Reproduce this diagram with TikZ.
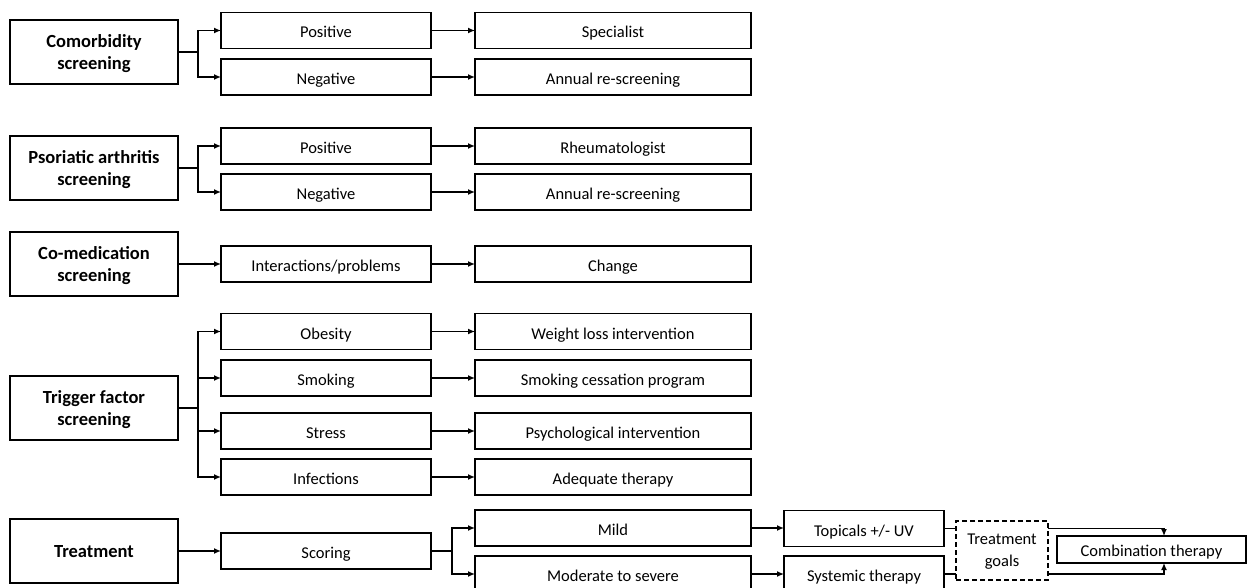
\documentclass[tikz,border=0pt]{standalone}
\usepackage{fontspec}
\setmainfont{Carlito}
\usetikzlibrary{arrows.meta}

\tikzset{
  headbox/.style={draw,line width=1.6pt,minimum width=168pt,minimum height=64pt,align=center,text depth=0pt,font=\fontsize{18.5pt}{21.5pt}\selectfont\bfseries},
  subbox/.style={draw,line width=1.4pt,minimum width=210pt,minimum height=36pt,text height=15pt,text depth=0pt,font=\fontsize{16.5pt}{19pt}\selectfont},
  actbox/.style={subbox,minimum width=276pt},
  therbox/.style={subbox,minimum width=160pt},
  arr/.style={-{Latex[length=7pt,width=6pt]},line width=1.3pt},
  lin/.style={line width=1.3pt}
}

\begin{document}
\begin{tikzpicture}[x=1pt,y=-1pt,inner sep=0pt,outer sep=0pt]
	\useasboundingbox (0,0) rectangle (1248,588);
	% left column
	\node[headbox](com) at (94,52) {Comorbidity\\screening};
	\node[headbox](psa) at (94,168) {Psoriatic arthritis\\screening};
	\node[headbox](med) at (94,264) {Co-medication\\screening};
	\node[headbox](trig) at (94,408) {Trigger factor\\screening};
	\node[headbox](treat) at (94,551) {Treatment};
	% middle column
	\node[subbox](pos1) at (326,30.5) {Positive};
	\node[subbox](neg1) at (326,77) {Negative};
	\node[subbox](pos2) at (326,146) {Positive};
	\node[subbox](neg2) at (326,192) {Negative};
	\node[subbox](inter) at (326,264) {Interactions/problems};
	\node[subbox](obes) at (326,331.5) {Obesity};
	\node[subbox](smok) at (326,378) {Smoking};
	\node[subbox](stress) at (326,431) {Stress};
	\node[subbox](infec) at (326,477) {Infections};
	\node[subbox](scor) at (326,551) {Scoring};
	% right column
	\node[actbox](spec) at (613,30.5) {Specialist};
	\node[actbox](ann1) at (613,77) {Annual re-screening};
	\node[actbox](rheu) at (613,146) {Rheumatologist};
	\node[actbox](ann2) at (613,192) {Annual re-screening};
	\node[actbox](chg) at (613,264) {Change};
	\node[actbox](weight) at (613,331.5) {Weight loss intervention};
	\node[actbox](cess) at (613,378) {Smoking cessation program};
	\node[actbox](psych) at (613,431) {Psychological intervention};
	\node[actbox](adeq) at (613,477) {Adequate therapy};
	\node[actbox](mild) at (613,528) {Mild};
	\node[actbox](mod) at (613,574) {Moderate to severe};
	% therapy
	\node[therbox](topic) at (864,528.5) {Topicals +/- UV};
	\node[therbox](syst) at (864,574) {Systemic therapy};
	\node[draw,dash pattern=on 5pt off 3pt,line width=1.4pt,minimum width=92pt,minimum height=59pt,align=center,text depth=0pt,font=\fontsize{16.5pt}{22pt}\selectfont](goals) at (1002,550.5) {Treatment\\goals};
	\node[subbox,minimum width=189pt,minimum height=27pt,text height=14pt](combo) at (1151.5,549.5) {Combination therapy};

	% branches
	\draw[lin] (com.east) -- (198,52);
	\draw[arr] (198,52) |- (pos1.west);
	\draw[arr] (198,52) |- (neg1.west);
	\draw[lin] (psa.east) -- (198,168);
	\draw[arr] (198,168) |- (pos2.west);
	\draw[arr] (198,168) |- (neg2.west);
	\draw[arr] (med.east) -- (inter.west);
	\draw[lin] (trig.east) -- (198,408);
	\foreach \n in {obes,smok,stress,infec}
		\draw[arr] (198,408) |- (\n.west);
	\draw[arr] (treat.east) -- (scor.west);
	\draw[lin] (scor.east) -- (452,551);
	\draw[arr] (452,551) |- (mild.west);
	\draw[arr] (452,551) |- (mod.west);
	% straight arrows
	\foreach \a/\b in {pos1/spec,neg1/ann1,pos2/rheu,neg2/ann2,inter/chg,obes/weight,smok/cess,stress/psych,infec/adeq,mild/topic,mod/syst}
		\draw[arr] (\a.east) -- (\a.east -| \b.west);
	\draw[lin] (topic.east) -- (topic.east -| goals.west);
	\draw[lin] (syst.east) -- (syst.east -| goals.west);
	\draw[arr] (goals.east |- topic.east) -| (1164,0 |- combo.north);
	\draw[arr] (goals.east |- syst.east) -| (1164,0 |- combo.south);
\end{tikzpicture}
\end{document}
